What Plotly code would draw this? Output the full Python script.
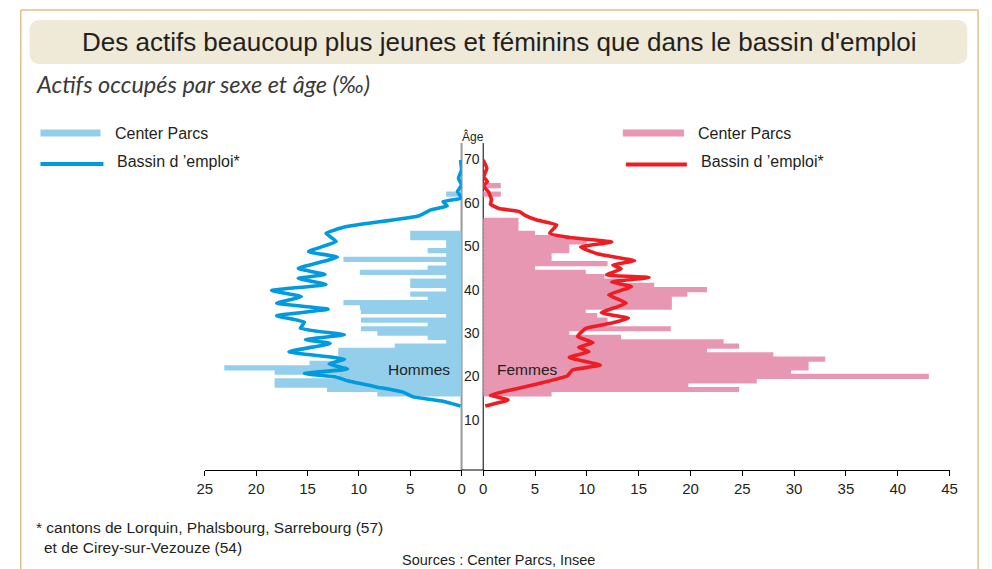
import plotly.graph_objects as go

W, H = 992, 569

# ---------------- data ----------------
# Center Parcs, hommes (‰) by age
men_ages = [16, 17, 18, 19, 20, 21, 22, 23, 24, 25, 26, 27, 28, 29, 30, 31, 32, 33, 34, 35,
            36, 37, 38, 39, 40, 41, 42, 43, 44, 45, 46, 47, 48, 49, 50, 51, 52, 53, 62]
men_cp = [8.2, 13.1, 18.2, 18.2, 12.0, 18.2, 23.1, 14.8, 12.0, 12.0, 12.0, 6.5, 1.5, 3.3, 8.2,
          9.8, 3.3, 9.8, 1.5, 9.8, 9.9, 11.5, 3.3, 5.0, 1.5, 5.0, 5.0, 1.5, 9.9, 3.3, 1.5, 11.5,
          1.5, 3.3, 1.5, 1.5, 5.0, 5.0, 1.5]

# Center Parcs, femmes (‰) by age
women_ages = [16, 17, 18, 19, 20, 21, 22, 23, 24, 25, 26, 27, 28, 29, 30, 31, 32, 33, 34, 35,
              36, 37, 38, 39, 40, 41, 42, 43, 44, 45, 46, 47, 48, 49, 50, 51, 52, 53, 54, 55,
              56, 62, 64]
women_cp = [6.6, 24.7, 19.8, 26.4, 43.0, 29.7, 31.4, 31.4, 33.0, 28.0, 21.6, 24.7, 23.2, 13.3,
            8.3, 18.1, 12.0, 12.0, 11.0, 9.9, 18.2, 18.2, 18.2, 19.7, 21.6, 16.5, 13.3, 11.7,
            9.9, 5.0, 12.0, 6.6, 6.6, 8.3, 8.3, 10.0, 8.3, 5.0, 3.4, 3.4, 3.4, 1.7, 1.7]

# Bassin d'emploi, hommes
men_basin_age = [69.9, 67.6, 65.7, 64.1, 62.6, 61.1, 60.3, 59.3, 58.4, 57.0, 54.5, 53.0, 51.1,
                 48.8, 47.5, 44.9, 43.5, 42.6, 41.2, 39.8, 38.4, 36.9, 35.5, 34.0, 32.5, 31.1,
                 29.6, 28.5, 27.6, 25.7, 24.0, 22.9, 21.7, 20.7, 19.9, 19.0, 17.6, 16.4, 15.3,
                 14.3, 13.2]
men_basin_val = [0.1, 0.0, 0.3, 0.0, 0.4, 0.0, 1.8, 1.4, 3.0, 4.2, 11.3, 13.2, 12.2,
                 14.9, 12.1, 15.9, 13.3, 15.9, 13.2, 18.5, 15.6, 18.0, 13.0, 18.0, 15.3, 15.7,
                 11.4, 15.2, 12.8, 16.8, 11.4, 12.9, 11.1, 15.3, 12.2, 11.1, 8.3, 5.7, 4.7,
                 1.8, 0.1]

# Bassin d'emploi, femmes
women_basin_age = [69.9, 68.0, 66.0, 64.9, 63.9, 62.6, 60.7, 59.7, 58.7, 58.0, 57.2, 56.1, 54.9,
                   53.0, 52.1, 51.0, 49.8, 48.2, 46.7, 45.7, 44.8, 43.4, 42.8, 41.8, 40.7, 38.8,
                   36.9, 34.7, 33.4, 32.3, 31.1, 29.2, 27.8, 26.7, 25.7, 24.4, 22.6, 21.5, 20.1,
                   18.4, 17.0, 15.7, 14.6, 13.2]
women_basin_val = [0.0, 0.35, 0.05, 0.4, 0.0, 0.5, 0.8, 0.7, 1.5, 3.5, 4.0, 5.1, 7.1,
                   6.4, 8.1, 12.4, 9.4, 11.1, 14.6, 12.5, 13.3, 11.9, 16.0, 12.4, 14.3, 12.1,
                   13.8, 11.4, 14.0, 12.4, 9.9, 9.1, 10.6, 9.2, 10.2, 8.3, 11.3, 8.6, 8.1,
                   5.4, 2.9, 0.7, 2.4, 0.2]

left_ticks = [0, 5, 10, 15, 20, 25]
right_ticks = [0, 5, 10, 15, 20, 25, 30, 35, 40, 45]
age_labels = [10, 20, 30, 40, 50, 60, 70]

# ---------------- style ----------------
LIGHT_BLUE = "#93cfea"
PINK = "#e897b3"
BLUE = "#009ade"
RED = "#ee1d23"
FRAME = "#dfc08a"
TITLE_BG = "#efe9d8"
TXT = "#231f20"
FONT = "Liberation Sans, Arial, sans-serif"


def px(x):
    return x / W


def py(y):
    return 1 - y / H


fig = go.Figure()

fig.add_trace(go.Bar(x=men_cp, y=men_ages, orientation="h", width=1.2,
                     marker=dict(color=LIGHT_BLUE, line=dict(width=0)),
                     xaxis="x", yaxis="y", showlegend=False, hoverinfo="x+y"))
fig.add_trace(go.Scatter(x=men_basin_val, y=men_basin_age, mode="lines",
                         line=dict(color=BLUE, width=3.6, shape="spline", smoothing=0.35),
                         xaxis="x", yaxis="y", showlegend=False))
fig.add_trace(go.Bar(x=women_cp, y=women_ages, orientation="h", width=1.2,
                     marker=dict(color=PINK, line=dict(width=0)),
                     xaxis="x2", yaxis="y2", showlegend=False, hoverinfo="x+y"))
fig.add_trace(go.Scatter(x=women_basin_val, y=women_basin_age, mode="lines",
                         line=dict(color=RED, width=3.6, shape="spline", smoothing=0.35),
                         xaxis="x2", yaxis="y2", showlegend=False))

y_top_px, y_bot_px = 143, 470
age_range = [-1.55, 73.8]

axis_common = dict(showgrid=False, zeroline=False, showline=True, linecolor="black",
                   linewidth=1, ticks="outside", ticklen=5, tickcolor="black", tickwidth=1,
                   tickfont=dict(family=FONT, size=15, color=TXT), fixedrange=True)

shapes = []
# outer frame
shapes.append(dict(type="line", xref="paper", yref="paper", x0=px(13), x1=px(13), y0=py(10), y1=py(569),
                   line=dict(color=FRAME, width=1.5)))
shapes.append(dict(type="line", xref="paper", yref="paper", x0=px(13), x1=px(986), y0=py(10), y1=py(10),
                   line=dict(color=FRAME, width=1.5)))
shapes.append(dict(type="line", xref="paper", yref="paper", x0=px(986), x1=px(986), y0=py(10), y1=py(569),
                   line=dict(color=FRAME, width=1.5)))

# title rounded box
x0, x1, y0, y1, r = 22, 975, 20, 64, 11
rx, ry = r / W, r / H
path = (f"M {px(x0)+rx},{py(y0)} L {px(x1)-rx},{py(y0)} Q {px(x1)},{py(y0)} {px(x1)},{py(y0)-ry} "
        f"L {px(x1)},{py(y1)+ry} Q {px(x1)},{py(y1)} {px(x1)-rx},{py(y1)} "
        f"L {px(x0)+rx},{py(y1)} Q {px(x0)},{py(y1)} {px(x0)},{py(y1)+ry} "
        f"L {px(x0)},{py(y0)-ry} Q {px(x0)},{py(y0)} {px(x0)+rx},{py(y0)} Z")
shapes.append(dict(type="path", xref="paper", yref="paper", path=path,
                   fillcolor=TITLE_BG, line=dict(width=0), layer="below"))

# vertical age axes
shapes.append(dict(type="line", xref="paper", yref="paper", x0=px(461), x1=px(461),
                   y0=py(y_top_px), y1=py(y_bot_px), line=dict(color="#9a9a9a", width=2), layer="below"))
shapes.append(dict(type="line", xref="paper", yref="paper", x0=px(483), x1=px(483),
                   y0=py(y_top_px), y1=py(y_bot_px), line=dict(color="black", width=1), layer="below"))
# x axis gap between the two halves
shapes.append(dict(type="line", xref="paper", yref="paper", x0=px(461), x1=px(483),
                   y0=py(y_bot_px), y1=py(y_bot_px), line=dict(color="black", width=1)))

# legend marks
shapes.append(dict(type="rect", xref="paper", yref="paper", x0=px(33), x1=px(94), y0=py(129.5), y1=py(136.5),
                   fillcolor=LIGHT_BLUE, line=dict(width=0)))
shapes.append(dict(type="line", xref="paper", yref="paper", x0=px(33), x1=px(97), y0=py(164), y1=py(164),
                   line=dict(color=BLUE, width=4)))
shapes.append(dict(type="rect", xref="paper", yref="paper", x0=px(625), x1=px(687), y0=py(129.5), y1=py(136.5),
                   fillcolor=PINK, line=dict(width=0)))
shapes.append(dict(type="line", xref="paper", yref="paper", x0=px(628), x1=px(690), y0=py(164.5), y1=py(164.5),
                   line=dict(color=RED, width=4)))

annotations = []


def text(x, y, s, size, anchor="left", color=TXT, family=FONT, yanchor="middle"):
    annotations.append(dict(x=px(x), y=py(y), xref="paper", yref="paper", text=s, showarrow=False,
                            xanchor=anchor, yanchor=yanchor,
                            font=dict(family=family, size=size, color=color)))


text(499.5, 42, "Des actifs beaucoup plus jeunes et féminins que dans le bassin d'emploi", 26, "center")
text(26, 84, "<i>Actifs occupés par sexe et âge (‰)</i>", 23.5, "left", color="#3a3a3a",
     family="Lato, Open Sans, sans-serif")
text(107, 133, "Center Parcs", 16)
text(109, 161, "Bassin d ’emploi*", 16)
text(699, 133, "Center Parcs", 16)
text(702, 161, "Bassin d ’emploi*", 16)
text(473, 136, "Âge", 12, "center")
text(418, 369, "Hommes", 15.5, "center")
text(528, 369, "Femmes", 15.5, "center")
text(26, 527, "* cantons de Lorquin, Phalsbourg, Sarrebourg (57)", 15.5)
text(35, 547, "et de Cirey-sur-Vezouze (54)", 15.5)
text(398, 560, "Sources : Center Parcs, Insee", 14.5)

for a in age_labels:
    annotations.append(dict(x=px(472), y=a, xref="paper", yref="y", text=str(a), showarrow=False,
                            xanchor="center", yanchor="middle",
                            font=dict(family=FONT, size=14, color=TXT)))

fig.update_layout(
    width=W, height=H, margin=dict(l=0, r=0, t=0, b=0),
    paper_bgcolor="white", plot_bgcolor="rgba(0,0,0,0)",
    showlegend=False, barmode="overlay",
    xaxis=dict(domain=[px(200), px(461)], range=[25, 0], tickvals=left_ticks,
               anchor="y", **axis_common),
    xaxis2=dict(domain=[px(483), px(957)], range=[0, 45], tickvals=right_ticks,
                anchor="y2", **axis_common),
    yaxis=dict(domain=[py(y_bot_px), py(y_top_px)], range=age_range, visible=False, fixedrange=True),
    yaxis2=dict(domain=[py(y_bot_px), py(y_top_px)], range=age_range, visible=False,
                anchor="x2", matches="y", fixedrange=True),
    shapes=shapes, annotations=annotations,
)

fig.write_html("out.html", config={"displayModeBar": False},
               post_script="document.body.style.margin='0';document.body.style.overflow='hidden';")
